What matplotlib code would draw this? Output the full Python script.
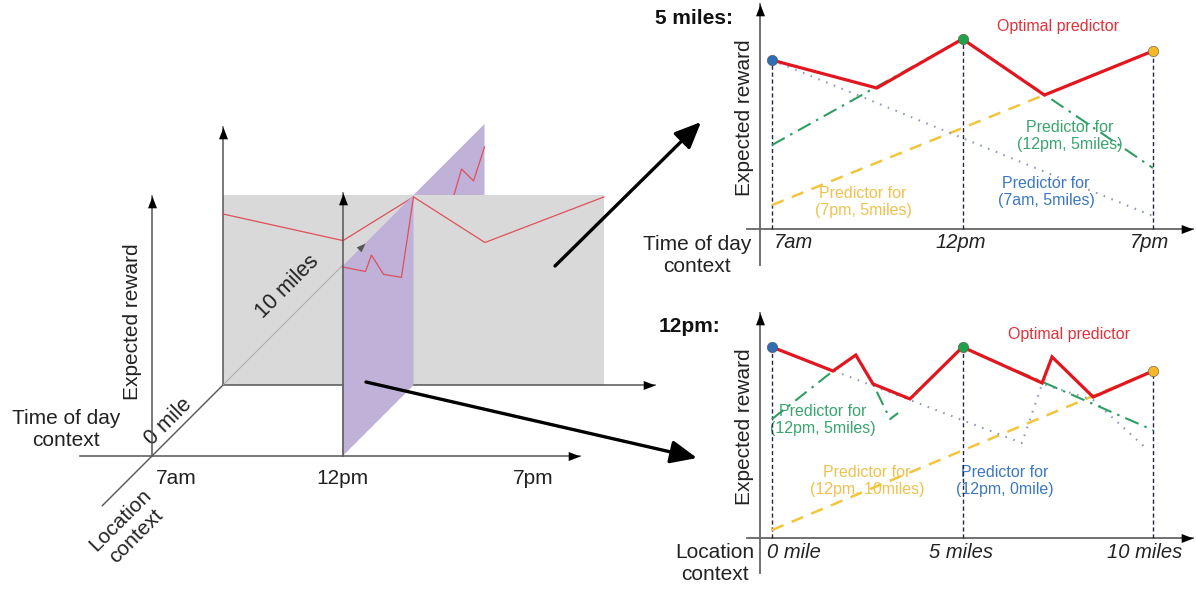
import numpy as np
import matplotlib
matplotlib.use('Agg')
import matplotlib.pyplot as plt
from matplotlib.markers import MarkerStyle
from matplotlib.transforms import Affine2D
from matplotlib.patches import Polygon

plt.rcParams['font.family'] = ['Liberation Sans', 'DejaVu Sans']

# ------------------------------------------------------------------ data
# left 3D sketch: time index (0=7am,1=12pm,2=7pm), location in miles, reward 0..1
sketch_time_labels = ['7am', '12pm', '7pm']
sketch_tod_t = [0, 0.63, 1.0, 1.375, 2.0]          # red curve on the 5-mile plane
sketch_tod_r = [0.90, 0.76, 0.99, 0.75, 0.99]
sketch_loc_front_l = [0, 1.62, 2.04, 2.89, 4.15, 5]  # red curve on the 12pm plane
sketch_loc_front_r = [0.995, 0.85, 0.905, 0.74, 0.63, 0.99]
sketch_loc_back_l = [5, 7.6, 8.38, 9.23, 10]
sketch_loc_back_r = [0.99, 0.74, 0.884, 0.758, 0.879]

# top right chart: 5 miles, x = time index
tod_ticks = [0, 1, 2]
tod_labels = ['7am', '12pm', '7pm']
tod_opt_x = [0, 0.55, 1, 1.43, 2]
tod_opt_y = [0.889, 0.742, 1.0, 0.705, 0.937]
tod_pred12_x = [0, 1, 2]
tod_pred12_y = [0.442, 1.0, 0.321]
tod_pred7am_x = [0, 2]
tod_pred7am_y = [0.889, 0.068]
tod_pred7pm_x = [0, 2]
tod_pred7pm_y = [0.126, 0.937]
tod_dot_y = [0.889, 1.0, 0.937]

# bottom right chart: 12pm, x = miles
loc_ticks = [0, 5, 10]
loc_labels = ['0 mile', '5 miles', '10 miles']
loc_opt_x = [0, 1.6, 2.2, 2.65, 3.62, 5, 7.09, 7.35, 8.43, 10]
loc_opt_y = [1.005, 0.879, 0.963, 0.811, 0.732, 1.005, 0.816, 0.953, 0.742, 0.879]
loc_pred5_x = [0, 1.6, 2.2, 2.65, 3.1, 3.31, np.nan, 5, 10]
loc_pred5_y = [0.626, 0.879, 0.963, 0.811, 0.626, 0.658, np.nan, 1.005, 0.568]
loc_pred0_x = [0, 6.56, 7.09, 8.43, 9.87]
loc_pred0_y = [1.005, 0.5, 0.811, 0.726, 0.463]
loc_pred10_x = [0, 10]
loc_pred10_y = [0.042, 0.879]
loc_dot_y = [1.005, 1.005, 0.879]

# ------------------------------------------------------------------ styles
W, H = 1196, 590
RED = '#e3161f'
GREEN = '#2f9e63'
BLUE_DOT = '#8f9cb8'
YELLOW = '#f2c53d'
DOT_COLORS = ['#2f6db5', '#23a04a', '#f4b829']
TXT_GREEN = '#3aa56e'
TXT_BLUE = '#3c78c0'
TXT_YELLOW = '#efc24e'
TXT_RED = '#e2313a'
AXC = '#666666'

fig = plt.figure(figsize=(W / 100, H / 100), dpi=100)
ax0 = fig.add_axes([0, 0, 1, 1])
ax0.set_xlim(0, W)
ax0.set_ylim(H, 0)
ax0.axis('off')


def head(ax, x, y, angle, size=17, color='black', z=10):
    m = MarkerStyle([(0, 0), (-0.38, -1), (0.38, -1), (0, 0)],
                    transform=Affine2D().rotate_deg(angle))
    ax.plot([x], [y], marker=m, ms=size, color=color, mec=color, mew=0,
            ls='none', zorder=z, clip_on=False)


# ---------------- 3D sketch (pixel canvas with oblique projection)
OX, OY, TS, LS, RS = 152, 456, 190.5, 14.2, 190


def P(t, l, r):
    return OX + TS * t + LS * l, OY - LS * l - RS * r


def poly(ax, pts, color, z):
    ax.add_patch(Polygon(pts, closed=True, facecolor=color, edgecolor='none', zorder=z))


PURPLE = '#bfb1d7'
GREY = '#d9d9d9'
poly(ax0, [P(1, 0, 0), P(1, 10, 0), P(1, 10, 1), P(1, 0, 1)], PURPLE, 1)
bx, by = zip(*[P(1, l, r) for l, r in zip(sketch_loc_back_l, sketch_loc_back_r)])
ax0.plot(bx, by, color='#e0505a', lw=0.9, zorder=2)
poly(ax0, [P(0, 5, 0), P(2, 5, 0), P(2, 5, 1), P(0, 5, 1)], GREY, 3)
# back axes
x0, y0 = P(0, 5, 0)
x1, y1 = P(0, 5, 1.36)
ax0.plot([x0, x1], [y0, y1], color='#555555', lw=1.1, zorder=4)
head(ax0, x1, y1, 0)
x1, y1 = P(2.27, 5, 0)
ax0.plot([x0, x1], [y0, y1], color='#555555', lw=1.1, zorder=4)
head(ax0, x1, y1, -90)
# red curve on 5-mile plane
gx, gy = zip(*[P(t, 5, r) for t, r in zip(sketch_tod_t, sketch_tod_r)])
ax0.plot(gx, gy, color='#e0505a', lw=0.9, zorder=5)
# thin location line behind
xa, ya = P(0, 5, 0)
xb, yb = P(0, 13.45, 0)
ax0.plot([xa, xb], [ya, yb], color='#a8a8a8', lw=0.7, zorder=5)
# front purple part
poly(ax0, [P(1, 0, 0), P(1, 5, 0), P(1, 5, 1), P(1, 0, 1)], PURPLE, 6)
fx, fy = zip(*[P(1, l, r) for l, r in zip(sketch_loc_front_l, sketch_loc_front_r)])
ax0.plot(fx, fy, color='#e0505a', lw=0.9, zorder=7)
xh, yh = P(0, 15, 0)
head(ax0, xh, yh, -45, size=13, color='#555555', z=8)
# front axes
x0, y0 = P(0, 0, 0)
x1, y1 = P(0, 0, 1.37)
ax0.plot([x0, x1], [y0, y1], color='#555555', lw=1.1, zorder=4)
head(ax0, x1, y1, 0)
xa, ya = P(-0.378, 0, 0)
xb, yb = P(2.247, 0, 0)
ax0.plot([xa, xb], [ya, yb], color='#555555', lw=1.1, zorder=4)
head(ax0, xb, yb, -90)
xa, ya = P(0, -3.5, 0)
xb, yb = P(0, 5, 0)
ax0.plot([xa, xb], [ya, yb], color='#555555', lw=1.0, zorder=4)
x0, y0 = P(1, 0, 0)
x1, y1 = P(1, 0, 1.384)
ax0.plot([x0, x1], [y0, y1], color='#555555', lw=1.1, zorder=8)
head(ax0, x1, y1, 0)

# sketch labels
FS = 15
ax0.text(132, 322, 'Expected reward', rotation=90, ha='center', va='center', fontsize=FS, color='#222222')
ax0.text(66, 429, 'Time of day\ncontext', ha='center', va='center', fontsize=FS, linespacing=1.2, color='#222222')
ax0.text(168, 422, '0 mile', rotation=45, ha='center', va='center', fontsize=15.5, color='#222222')
ax0.text(287, 287, '10 miles', rotation=45, ha='center', va='center', fontsize=15.5, color='#222222')
for t, lab in zip([0, 1, 2], sketch_time_labels):
    x, _ = P(t, 0, 0)
    dx = 24 if t == 0 else 0
    ax0.text(x + dx, 478, lab, ha='center', va='center', fontsize=FS, color='#222222')
ax0.text(128, 528, 'Location\ncontext', rotation=45, ha='center', va='center', fontsize=FS,
         linespacing=1.2, color='#222222')

# thick pointer arrows
for (xs, ys), (xt, yt) in [((555, 266), (701, 122)), ((366, 382), (697, 458))]:
    ax0.annotate('', xy=(xt, yt), xytext=(xs, ys),
                 arrowprops=dict(arrowstyle='-|>,head_length=0.8,head_width=0.35', lw=2.4,
                                 color='black', mutation_scale=20, shrinkA=0, shrinkB=0),
                 zorder=9)

# ---------------- right charts


def px_axes(xl, xr, yt, yb, data_x0, px_per_x, data_y_base_px, px_per_y=190):
    ax = fig.add_axes([xl / W, 1 - yb / H, (xr - xl) / W, (yb - yt) / H])
    ax.set_xlim((xl - data_x0) / px_per_x, (xr - data_x0) / px_per_x)
    ax.set_ylim((data_y_base_px - yb) / px_per_y, (data_y_base_px - yt) / px_per_y)
    ax.axis('off')
    ax.patch.set_alpha(0)
    return ax


def frame(ax, x_of_px, y_of_px, x_start_px, x_tip_px, y_axis_px, y_bot_px, y_tip_px):
    ax.plot([x_of_px(x_start_px), x_of_px(x_tip_px)], [0, 0], color=AXC, lw=1.3, clip_on=False, zorder=2)
    head(ax, x_of_px(x_tip_px), 0, -90)
    ax.plot([x_of_px(y_axis_px)] * 2, [y_of_px(y_bot_px), y_of_px(y_tip_px)], color=AXC, lw=1.3,
            clip_on=False, zorder=2)
    head(ax, x_of_px(y_axis_px), y_of_px(y_tip_px), 0)


def draw_chart(ax, ticks, dots_y, opt_x, opt_y, series):
    for x, y in zip(ticks, dots_y):
        ax.plot([x, x], [0, y], color='#262640', lw=1.0, ls=(0, (3, 2)), clip_on=False, zorder=3)
    for xs, ys, style in series:
        ax.plot(xs, ys, clip_on=False, zorder=4, **style)
    ax.plot(opt_x, opt_y, color=RED, lw=2.3, clip_on=False, zorder=5, solid_joinstyle='miter')
    for x, y, c in zip(ticks, dots_y, DOT_COLORS):
        ax.plot([x], [y], 'o', ms=7.5, color=c, mec='#555555', mew=0.4, clip_on=False, zorder=6)


green_style = dict(color=GREEN, lw=1.5, ls=(0, (7, 3, 1.2, 3)))
blue_style = dict(color=BLUE_DOT, lw=1.5, ls=(0, (0.8, 3.2)))
yellow_style = dict(color=YELLOW, lw=1.8, ls=(0, (5, 3.5)))

# top chart: 5 miles
axT = px_axes(740, 1196, 0, 272, 772, 190.5, 229)
frame(axT, lambda p: (p - 772) / 190.5, lambda p: (229 - p) / 190, 747, 1193, 760, 265, 4)
draw_chart(axT, tod_ticks, tod_dot_y, tod_opt_x, tod_opt_y,
           [(tod_pred7pm_x, tod_pred7pm_y, yellow_style),
            (tod_pred7am_x, tod_pred7am_y, blue_style),
            (tod_pred12_x, tod_pred12_y, green_style)])

# bottom chart: 12pm
axB = px_axes(740, 1196, 300, 590, 772, 38.1, 538)
frame(axB, lambda p: (p - 772) / 38.1, lambda p: (538 - p) / 190, 747, 1193, 760, 573, 313)
draw_chart(axB, loc_ticks, loc_dot_y, loc_opt_x, loc_opt_y,
           [(loc_pred10_x, loc_pred10_y, yellow_style),
            (loc_pred0_x, loc_pred0_y, blue_style),
            (loc_pred5_x, loc_pred5_y, green_style)])

# tick labels
for x, lab, cx in zip(tod_ticks, tod_labels, [794, 961, 1150]):
    ax0.text(cx, 243, lab, ha='center', va='center', fontsize=14.5, style='italic', color='#222222')
for x, lab, cx in zip(loc_ticks, loc_labels, [794, 961, 1145]):
    ax0.text(cx, 552, lab, ha='center', va='center', fontsize=14.5, style='italic', color='#222222')

# right chart text
ax0.text(733, 18, '5 miles:', ha='right', va='center', fontsize=15, fontweight='bold', color='#111111')
ax0.text(720, 327, '12pm:', ha='right', va='center', fontsize=15, fontweight='bold', color='#111111')
ax0.text(697, 255, 'Time of day\ncontext', ha='center', va='center', fontsize=FS, linespacing=1.2, color='#222222')
ax0.text(715, 564, 'Location\ncontext', ha='center', va='center', fontsize=FS, linespacing=1.2, color='#222222')
ax0.text(745, 118, 'Expected reward', rotation=90, ha='center', va='center', fontsize=FS, color='#222222')
ax0.text(745, 427, 'Expected reward', rotation=90, ha='center', va='center', fontsize=FS, color='#222222')

SF = 11.5
ax0.text(1058, 27, 'Optimal predictor', ha='center', va='center', fontsize=SF, color=TXT_RED)
ax0.text(1070, 136, 'Predictor for\n(12pm, 5miles)', ha='center', va='center', fontsize=SF, linespacing=1.2, color=TXT_GREEN)
ax0.text(1046, 192, 'Predictor for\n(7am, 5miles)', ha='center', va='center', fontsize=SF, linespacing=1.2, color=TXT_BLUE)
ax0.text(863, 202, 'Predictor for\n(7pm, 5miles)', ha='center', va='center', fontsize=SF, linespacing=1.2, color=TXT_YELLOW)

ax0.text(1069, 335, 'Optimal predictor', ha='center', va='center', fontsize=SF, color=TXT_RED)
ax0.text(823, 420, 'Predictor for\n(12pm, 5miles)', ha='center', va='center', fontsize=SF, linespacing=1.2, color=TXT_GREEN)
ax0.text(867, 481, 'Predictor for\n(12pm, 10miles)', ha='center', va='center', fontsize=SF, linespacing=1.2, color=TXT_YELLOW)
ax0.text(1005, 481, 'Predictor for\n(12pm, 0mile)', ha='center', va='center', fontsize=SF, linespacing=1.2, color=TXT_BLUE)

fig.savefig('out.png', dpi=100)
